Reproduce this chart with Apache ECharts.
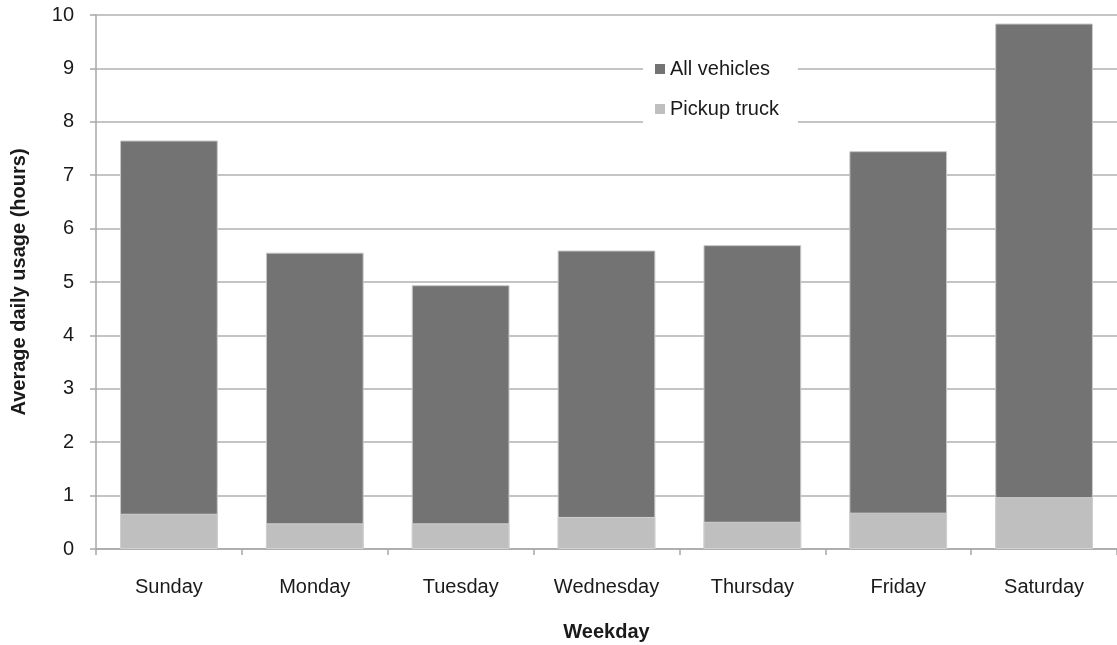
<!DOCTYPE html>
<html lang="en">
<head>
<meta charset="UTF-8">
<title>Average daily usage</title>
<style>
  html, body { margin: 0; padding: 0; background: #fff; }
  #main { width: 1117px; height: 645px; }
</style>
</head>
<body>
<div id="main"></div>
<script src="https://cdn.jsdelivr.net/npm/echarts@6/dist/echarts.min.js"></script>
<script>
var weekdays = ['Sunday', 'Monday', 'Tuesday', 'Wednesday', 'Thursday', 'Friday', 'Saturday'];
var allVehicles = [7.65, 5.55, 4.94, 5.59, 5.69, 7.45, 9.84];
var pickupTruck = [0.66, 0.48, 0.48, 0.60, 0.51, 0.68, 0.97];
var yTicks = [0, 10, 1];   // min, max, interval

var chart = echarts.init(document.getElementById('main'));
var font = 'Liberation Sans, Arial, sans-serif';

var option = {
    animation: false,
    grid: { left: 96, right: 0, top: 15, bottom: 96, containLabel: false, outerBoundsMode: 'none' },
    legend: {
        orient: 'vertical',
        left: 643,
        top: 53,
        icon: 'rect',
        itemWidth: 10,
        itemHeight: 10,
        itemGap: 20,
        padding: [6, 19, 8, 12],
        backgroundColor: '#fff',
        itemStyle: { borderWidth: 0 },
        data: ['All vehicles', 'Pickup truck'],
        textStyle: { fontFamily: font, fontSize: 20, color: '#1a1a1a' }
    },
    xAxis: {
        type: 'category',
        data: weekdays,
        name: 'Weekday',
        nameLocation: 'middle',
        nameGap: 73,
        nameTextStyle: { fontFamily: font, fontSize: 20, fontWeight: 'bold', color: '#1a1a1a' },
        axisLine: { lineStyle: { color: '#a8a8a8', width: 1.5 } },
        axisTick: { show: true, length: 6, lineStyle: { color: '#a8a8a8', width: 1.5 } },
        axisLabel: { fontFamily: font, fontSize: 20, color: '#1a1a1a', margin: 28 }
    },
    yAxis: {
        type: 'value',
        min: yTicks[0],
        max: yTicks[1],
        interval: yTicks[2],
        name: 'Average daily usage (hours)',
        nameLocation: 'middle',
        nameGap: 67,
        nameTextStyle: { fontFamily: font, fontSize: 20, fontWeight: 'bold', color: '#1a1a1a' },
        axisLine: { show: true, lineStyle: { color: '#a8a8a8', width: 1.5 } },
        axisTick: { show: true, length: 6, lineStyle: { color: '#a8a8a8', width: 1.5 } },
        axisLabel: { fontFamily: font, fontSize: 20, color: '#1a1a1a', margin: 22 },
        splitLine: { lineStyle: { color: '#b0b0b0', width: 1.5 } }
    },
    series: [
        {
            name: 'All vehicles',
            type: 'bar',
            data: allVehicles,
            barCategoryGap: '33%',
            barGap: '-100%',
            itemStyle: { color: '#737373', borderColor: '#c8c8c8', borderWidth: 1 }
        },
        {
            name: 'Pickup truck',
            type: 'bar',
            data: pickupTruck,
            barCategoryGap: '33%',
            barGap: '-100%',
            itemStyle: { color: '#bfbfbf', borderColor: '#d0d0d0', borderWidth: 1 }
        }
    ]
};
chart.setOption(option);
</script>
</body>
</html>
